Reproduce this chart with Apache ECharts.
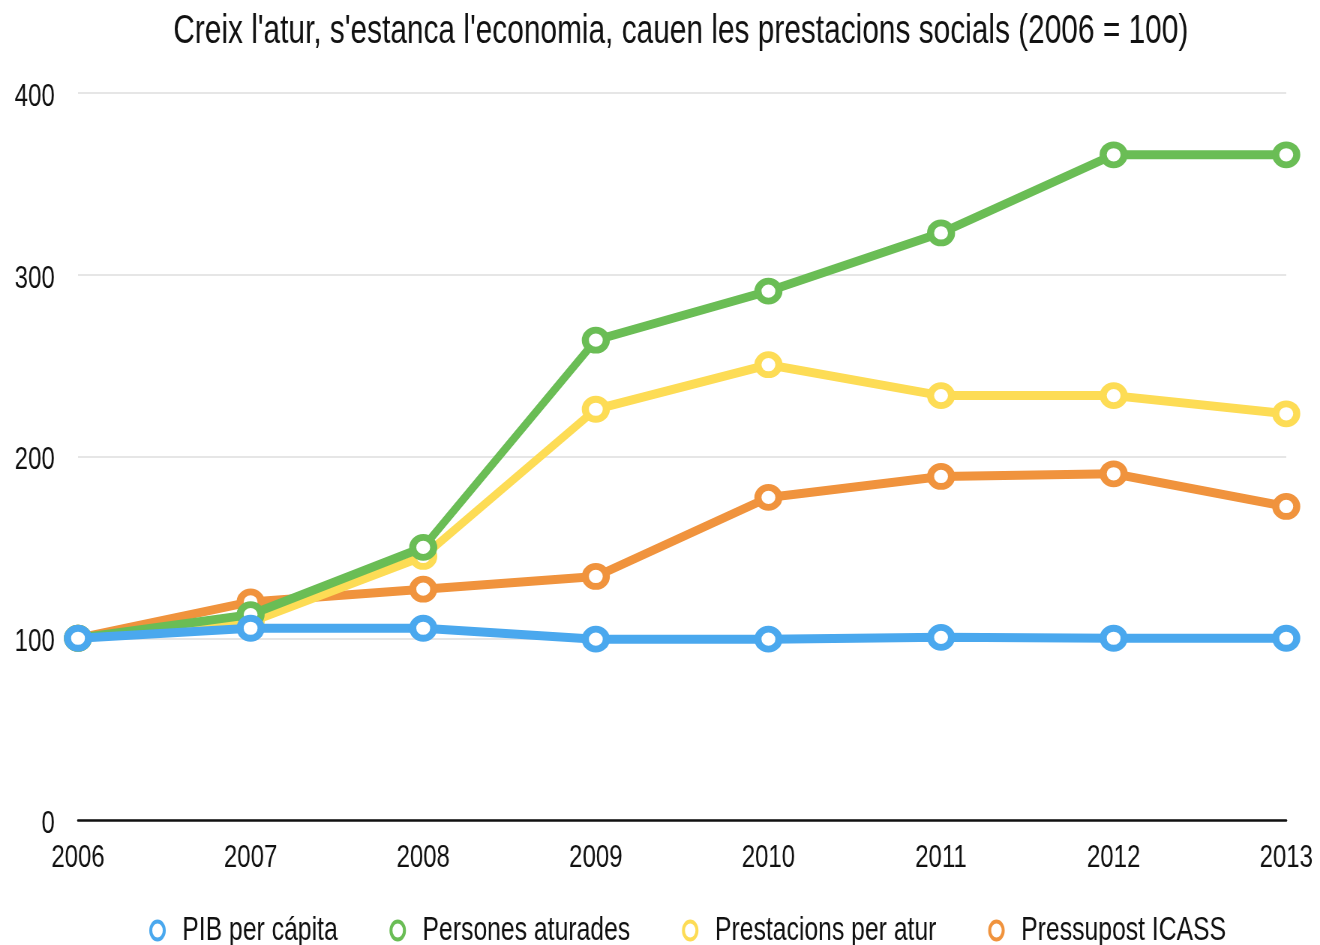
<!DOCTYPE html>
<html><head><meta charset="utf-8">
<script src="https://cdn.jsdelivr.net/npm/echarts@6/dist/echarts.min.js"></script>
<style>html,body{margin:0;padding:0;background:#fff;overflow:hidden}
#wrap{width:1320px;height:945px;overflow:hidden}
#c{width:1760px;height:945px;transform:scaleX(0.75);transform-origin:0 0}</style>
</head><body><div id="wrap"><div id="c"></div></div>
<script>
const years = ['2006','2007','2008','2009','2010','2011','2012','2013'];
const pibPerCapita = [100, 105.5, 105.5, 99.5, 99.5, 100.5, 100, 100];
const personesAturades = [100, 113, 150, 264, 291, 323, 366, 366];
const prestacionsPerAtur = [100, 109, 145, 226, 250.5, 233.5, 233.5, 223.5];
const pressupostICASS = [100, 120, 127, 134, 177.5, 189, 190.5, 172.5];
const seriesNames = ['PIB per cápita','Persones aturades','Prestacions per atur','Pressupost ICASS'];
const colors = ['#4aa8ee','#6abd55','#fddc55','#f0933d'];
const yTicks = [0,100,200,300,400];

const FONT = 'Liberation Sans, Arial, Helvetica, sans-serif';
const chart = echarts.init(document.getElementById('c'));
const dataSets = [pibPerCapita, personesAturades, prestacionsPerAtur, pressupostICASS];
const zs = [5,4,3,2];
const series = seriesNames.map((n,i)=>({
  name:n, type:'line', data:dataSets[i], z:zs[i],
  symbol:'circle', symbolSize:[28,20], showSymbol:true,
  lineStyle:{width:9,color:colors[i]},
  itemStyle:{color:'#fff',borderColor:colors[i],borderWidth:8},
  emphasis:{disabled:true}
}));
chart.setOption({
  animation:false,
  backgroundColor:'#fff',
  title:{text:"Creix l'atur, s'estanca l'economia, cauen les prestacions socials (2006 = 100)",
    left:226, top:7, textStyle:{fontFamily:FONT,fontSize:39.8,fontWeight:'normal',color:'#111'}},
  legend:{data:seriesNames, top:909, left:194, itemGap:69, itemWidth:20, itemHeight:18,
    icon:'circle',
    itemStyle:{color:'#fff',borderWidth:4},
    textStyle:{fontFamily:FONT,fontSize:33,color:'#111',padding:[0,0,0,18]}},
  grid:{left:104,right:45,top:93,bottom:125,containLabel:false},
  xAxis:{type:'category',data:years,boundaryGap:false,
    axisLine:{lineStyle:{color:'#111',width:2.5}},axisTick:{show:false},
    axisLabel:{fontFamily:FONT,fontSize:32,color:'#111',margin:22},
    splitLine:{show:false}},
  yAxis:{type:'value',min:0,max:400,interval:100,
    axisLine:{show:false},axisTick:{show:false},
    axisLabel:{fontFamily:FONT,fontSize:32,color:'#111',margin:31,
      formatter:v=>yTicks.includes(v)?'{a|'+v+'}':'',
      rich:{a:{fontFamily:FONT,fontSize:32,color:'#111',padding:[8,0,0,0]}}},
    splitLine:{lineStyle:{color:'#e6e6e6',width:2}}},
  series:series
});
</script></body></html>
